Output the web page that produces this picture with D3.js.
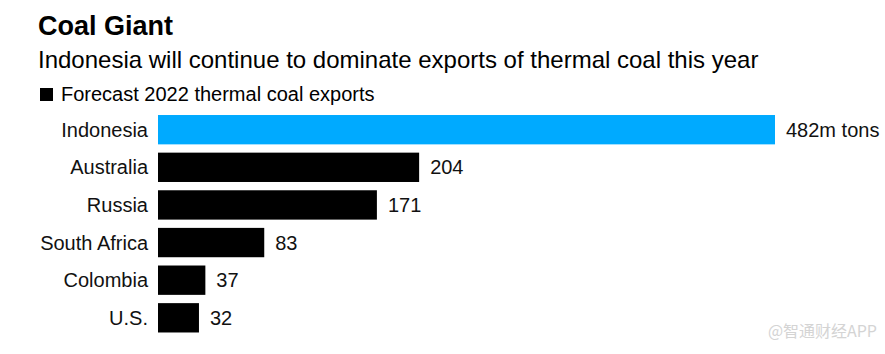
<!DOCTYPE html>
<html>
<head>
<meta charset="utf-8">
<script src="https://cdn.jsdelivr.net/npm/d3@7"></script>
<style>
  body { margin: 0; background: #fff; }
  svg text { font-family: "Liberation Sans", Arial, Helvetica, sans-serif; }
</style>
</head>
<body>
<div id="canvas"></div>
<script>
// Forecast 2022 thermal coal exports, million tons
let countries = ['Indonesia', 'Australia', 'Russia', 'South Africa', 'Colombia', 'U.S.']
let exports2022 = [482, 204, 171, 83, 37, 32]
let valueLabels = ['482m tons', '204', '171', '83', '37', '32']

let width = 885
let height = 354

let svg = d3.select('#canvas').append('svg')
    .attr('width', width)
    .attr('height', height)

// titles
svg.append('text')
    .attr('x', 38).attr('y', 35)
    .attr('font-size', 27).attr('font-weight', 'bold')
    .attr('fill', '#000')
    .text('Coal Giant')

svg.append('text')
    .attr('x', 38).attr('y', 68)
    .attr('font-size', 24)
    .attr('fill', '#000')
    .text('Indonesia will continue to dominate exports of thermal coal this year')

// legend
svg.append('rect')
    .attr('x', 40).attr('y', 88)
    .attr('width', 13).attr('height', 13)
    .attr('fill', '#000')

svg.append('text')
    .attr('x', 61).attr('y', 101)
    .attr('font-size', 20)
    .attr('fill', '#000')
    .text('Forecast 2022 thermal coal exports')

// scales
let x = d3.scaleLinear()
    .domain([0, 482])
    .range([158, 775])

let y = d3.scaleBand()
    .domain(countries)
    .range([110.5, 337])
    .paddingInner(0.22)
    .paddingOuter(0.12)

let g = svg.append('g').attr('class', 'bars')

g.selectAll('rect')
    .data(countries)
    .enter()
    .append('rect')
    .attr('x', x(0))
    .attr('y', (d) => y(d))
    .attr('width', (d, i) => x(exports2022[i]) - x(0))
    .attr('height', y.bandwidth())
    .attr('fill', (d, i) => i === 0 ? '#00aaff' : '#000')

// category labels
g.selectAll('text.cat')
    .data(countries)
    .enter()
    .append('text')
    .attr('class', 'cat')
    .attr('x', 148)
    .attr('y', (d) => y(d) + y.bandwidth() / 2)
    .attr('dy', '0.35em')
    .attr('text-anchor', 'end')
    .attr('font-size', 20)
    .attr('fill', '#111')
    .text((d) => d)

// value labels
g.selectAll('text.val')
    .data(countries)
    .enter()
    .append('text')
    .attr('class', 'val')
    .attr('x', (d, i) => x(exports2022[i]) + 11)
    .attr('y', (d) => y(d) + y.bandwidth() / 2)
    .attr('dy', '0.35em')
    .attr('font-size', 20)
    .attr('fill', '#111')
    .text((d, i) => valueLabels[i])

// watermark
svg.append('text')
    .attr('x', 877).attr('y', 337)
    .attr('text-anchor', 'end')
    .attr('font-size', 16)
    .attr('fill', '#d4d4d4')
    .style('font-family', '"Noto Sans CJK SC", sans-serif')
    .text('@智通财经APP')
</script>
</body>
</html>
